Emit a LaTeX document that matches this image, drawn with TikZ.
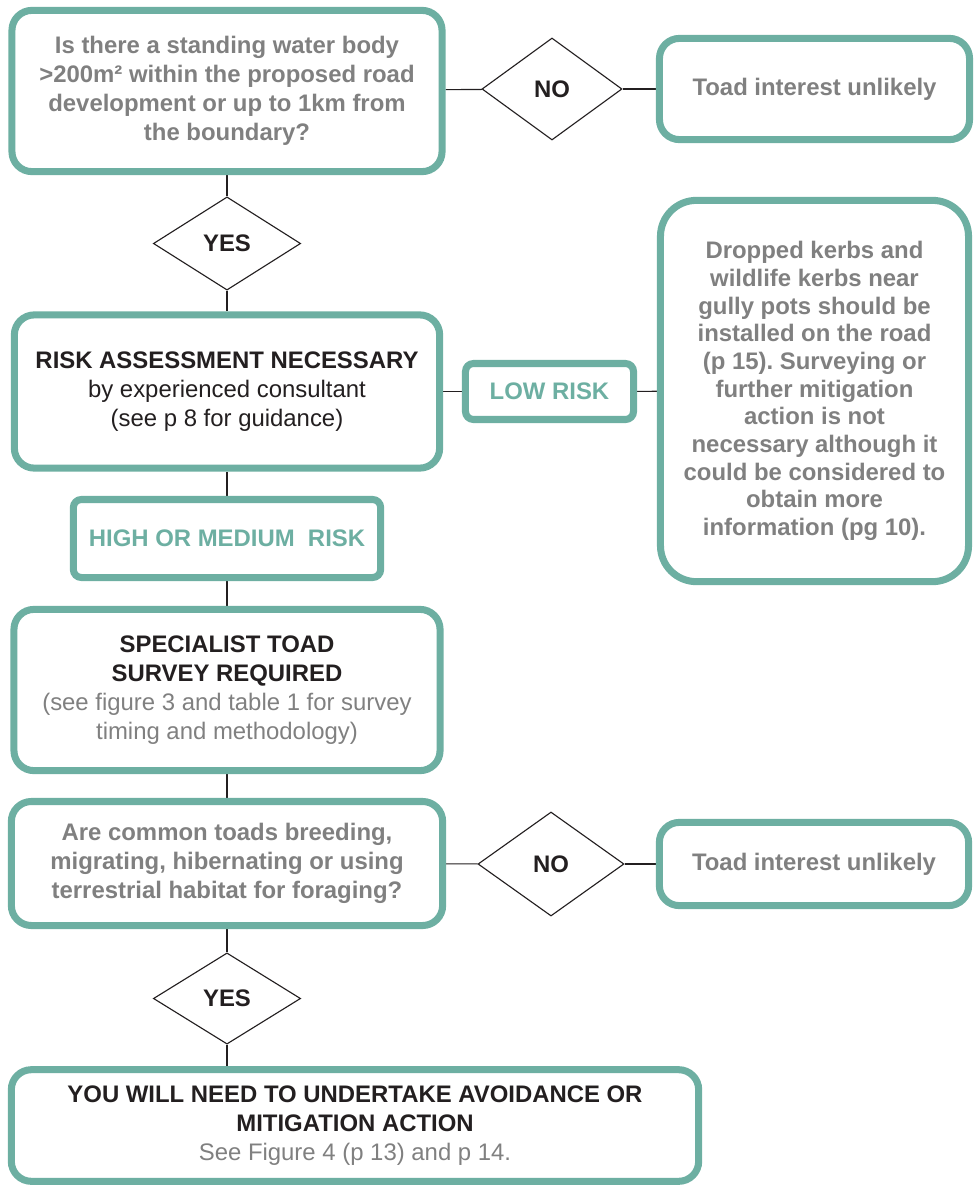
\documentclass[tikz,border=0pt]{standalone}
\usepackage{fontspec}
\setmainfont{Liberation Sans}
\usetikzlibrary{shapes.geometric,backgrounds}

\definecolor{toadgreen}{HTML}{6DAFA2}
\definecolor{txtgrey}{HTML}{808080}
\definecolor{txtblack}{HTML}{231F20}

\frenchspacing

\begin{document}
\begin{tikzpicture}[x=0.025cm, y=-0.025cm,
	box/.style={rectangle, draw=toadgreen, line width=5pt, rounded corners=0.5cm, fill=white, align=center, inner sep=0pt, text=txtblack, font=\fontsize{17}{20.6}\selectfont},
	question/.style={box, text=txtgrey, font=\fontsize{17}{20.6}\selectfont\bfseries},
	risk/.style={box, text=toadgreen, rounded corners=0.2cm, font=\fontsize{17}{20.6}\selectfont\bfseries},
	decision/.style={diamond, draw=txtblack, line width=0.8pt, fill=white, inner sep=0pt, text=txtblack, font=\fontsize{17}{20}\selectfont\bfseries},
	link/.style={draw=txtblack, line width=0.8pt}]

	\useasboundingbox (0,0) rectangle (980,1185);

	% left column
	\node[question, minimum width=10.75cm, minimum height=4.03cm] (water) at (227,91)
		{Is there a standing water body\\ >200m² within the proposed road\\ development or up to 1km from\\ the boundary?};
	\node[decision, minimum width=3.68cm, minimum height=2.33cm] (yes1) at (227,243.5) {YES};
	\node[box, minimum width=10.63cm, minimum height=3.83cm] (assess) at (227,391.5)
		{{\bfseries RISK ASSESSMENT NECESSARY}\\ by experienced consultant\\ (see p 8 for guidance)};
	\node[risk, minimum width=7.68cm, minimum height=1.95cm] (highrisk) at (227,538.5) {HIGH OR MEDIUM\ \ RISK};
	\node[box, minimum width=10.65cm, minimum height=4.03cm] (survey) at (227,690)
		{{\bfseries SPECIALIST TOAD}\\ {\bfseries SURVEY REQUIRED}\\ \textcolor{txtgrey}{(see figure 3 and table 1 for survey}\\ \textcolor{txtgrey}{timing and methodology)}};
	\node[question, minimum width=10.78cm, minimum height=3.1cm] (breeding) at (227,863.5)
		{Are common toads breeding,\\ migrating, hibernating or using\\ terrestrial habitat for foraging?};
	\node[decision, minimum width=3.68cm, minimum height=2.28cm] (yes2) at (227,998.5) {YES};
	\node[box, minimum width=17.18cm, minimum height=2.79cm] (action) at (355,1125.5)
		{{\bfseries YOU WILL NEED TO UNDERTAKE AVOIDANCE OR}\\ {\bfseries MITIGATION ACTION}\\ \textcolor{txtgrey}{See Figure 4 (p 13) and p 14.}};

	% right side
	\node[decision, minimum width=3.5cm, minimum height=2.55cm] (no1) at (552,89) {NO};
	\node[question, minimum width=7.75cm, minimum height=2.53cm] (unlikely1) at (814.5,89) {Toad interest unlikely};
	\node[risk, minimum width=4.2cm, minimum height=1.4cm] (lowrisk) at (549.5,391.5) {LOW RISK};
	\node[question, rounded corners=0.9cm, minimum width=7.7cm, minimum height=9.53cm, font=\fontsize{17}{19.7}\selectfont\bfseries] (kerbs) at (814.5,391)
		{Dropped kerbs and\\ wildlife kerbs near\\ gully pots should be\\ installed on the road\\ (p 15). Surveying or\\ further mitigation\\ action is not\\ necessary although it\\ could be considered to\\ obtain more\\ information (pg 10).};
	\node[decision, minimum width=3.65cm, minimum height=2.6cm] (no2) at (551,864) {NO};
	\node[question, minimum width=7.73cm, minimum height=2.08cm] (unlikely2) at (814,864) {Toad interest unlikely};

	\begin{scope}[on background layer]
	\path[link]
		(water) edge (no1)
			edge (yes1)
		(no1) edge (unlikely1)
		(yes1) edge (assess)
		(assess) edge (lowrisk)
			edge (highrisk)
		(lowrisk) edge (kerbs)
		(highrisk) edge (survey)
		(survey) edge (breeding)
		(breeding) edge (no2)
			edge (yes2)
		(no2) edge (unlikely2)
		(yes2) edge (yes2 |- action.north);
	\end{scope}

\end{tikzpicture}
\end{document}
